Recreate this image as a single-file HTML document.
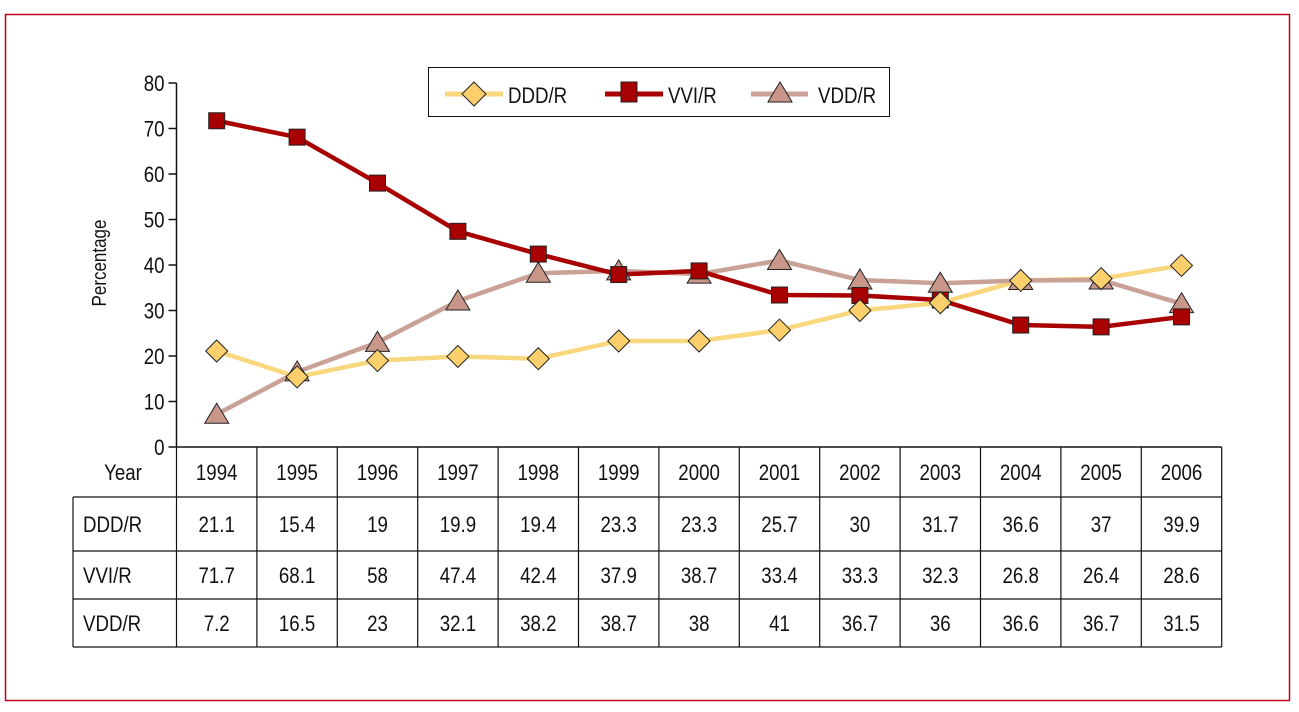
<!DOCTYPE html>
<html><head><meta charset="utf-8"><style>
body{margin:0;background:#fff;width:1299px;height:707px;overflow:hidden}
svg text{font-family:"Liberation Sans Narrow","Liberation Sans",sans-serif;fill:#111}
</style></head><body>
<svg id="chart" width="1299" height="707">
<rect x="5.5" y="14.5" width="1284" height="686" fill="none" stroke="#c0001a" stroke-width="1.5"/>
<g id="axis"></g>
<text x="106" y="263" font-size="20" text-anchor="middle" transform="rotate(-90 106 263) translate(106 0) scale(0.85 1) translate(-106 0)" class="nos">Percentage</text>
<g id="table"></g>
<g id="series"></g>
<g>
<rect x="428.5" y="67.5" width="461" height="49" fill="#fff" stroke="#111" stroke-width="1"/>
<g><line x1="445" y1="94" x2="503" y2="94" stroke="#f9d77c" stroke-width="5"/><polygon points="474,82 486,94 474,106 462,94" fill="#fbd06c" stroke="#222"/><text x="508" y="103" font-size="22">DDD/R</text></g>
<g><line x1="605" y1="94" x2="663" y2="94" stroke="#a80000" stroke-width="5"/><rect x="621" y="82" width="16" height="20" fill="#a80000" stroke="#222"/><text x="668" y="103" font-size="22">VVI/R</text></g>
<g><line x1="751" y1="94" x2="808" y2="94" stroke="#c9a196" stroke-width="5"/><polygon points="780,82 792,102 768,102" fill="#c9978a" stroke="#222"/><text x="818" y="103" font-size="22">VDD/R</text></g>
</g>
</svg>
<script>
const years=["1994","1995","1996","1997","1998","1999","2000","2001","2002","2003","2004","2005","2006"];
const ddd=[21.1,15.4,19,19.9,19.4,23.3,23.3,25.7,30,31.7,36.6,37,39.9];
const vvi=[71.7,68.1,58,47.4,42.4,37.9,38.7,33.4,33.3,32.3,26.8,26.4,28.6];
const vdd=[7.2,16.5,23,32.1,38.2,38.7,38,41,36.7,36,36.6,36.7,31.5];
const yTicks=[0,10,20,30,40,50,60,70,80];
const NS="http://www.w3.org/2000/svg";
const x0=176.5,colW=80.4,y0=447,yScale=4.55;
function xs(i){return x0+colW*(i+0.5);}
function ys(v){return y0-v*yScale;}
function mk(tag,attrs,parent){const e=document.createElementNS(NS,tag);for(const k in attrs)e.setAttribute(k,attrs[k]);parent.appendChild(e);return e;}
const axis=document.getElementById('axis');
mk('line',{x1:x0,y1:ys(80),x2:x0,y2:y0,stroke:'#111','stroke-width':1.5},axis);
yTicks.forEach(t=>{
 const l=mk('line',{x1:x0-8,y1:ys(t),x2:x0,y2:ys(t),stroke:'#111','stroke-width':1.5},axis);
 
 
 const tx=mk('text',{x:x0-12,y:ys(t)+8,'font-size':22,'text-anchor':'end'},axis);
 tx.textContent=t;
 
 
});
const tb=document.getElementById('table');
const xEnd=x0+colW*years.length;
const rowsY=[447,497,551,599,647];
mk('line',{x1:x0,y1:447,x2:xEnd,y2:447,stroke:'#111','stroke-width':1.5},tb);
for(let r=1;r<rowsY.length;r++)mk('line',{x1:73,y1:rowsY[r],x2:xEnd,y2:rowsY[r],stroke:'#111','stroke-width':1.2},tb);
mk('line',{x1:73,y1:497,x2:73,y2:647,stroke:'#111','stroke-width':1.2},tb);
for(let i=0;i<=years.length;i++)mk('line',{x1:x0+colW*i,y1:447,x2:x0+colW*i,y2:647,stroke:'#111','stroke-width':1.2},tb);
const labels=["Year","DDD/R","VVI/R","VDD/R"];
const rowData=[years,ddd,vvi,vdd];
labels.forEach((lb,r)=>{
 const cy=(rowsY[r]+rowsY[r+1])/2+8;
 const t=mk('text',{x:r==0?123:83,y:cy,'font-size':22,'text-anchor':r==0?'middle':'start'},tb);
 t.textContent=lb;
 
 
 rowData[r].forEach((v,i)=>{
  const c=mk('text',{x:xs(i),y:cy,'font-size':22,'text-anchor':'middle'},tb);
  c.textContent=v;
  
  
 });
});
const sg=document.getElementById('series');
function line(vals,color,name){
 const p=mk('polyline',{points:vals.map((v,i)=>xs(i)+','+ys(v)).join(' '),fill:'none',stroke:color,'stroke-width':4.5,'stroke-linejoin':'round'},sg);
 
 
}
line(ddd,'#f9d77c','ddd-line');
line(vdd,'#c9a196','vdd-line');
line(vvi,'#a80000','vvi-line');
vdd.forEach((v,i)=>{const x=xs(i),y=ys(v);
 const m=mk('polygon',{points:`${x},${y-11} ${x+12},${y+9} ${x-12},${y+9}`,fill:'#c9978a',stroke:'#222'},sg);
 
 });
vvi.forEach((v,i)=>{const x=xs(i),y=ys(v);
 const m=mk('rect',{x:x-8,y:y-8,width:16,height:16,fill:'#a80000',stroke:'#222'},sg);
 
 });
ddd.forEach((v,i)=>{const x=xs(i),y=ys(v);
 const m=mk('polygon',{points:`${x},${y-11} ${x+11},${y} ${x},${y+11} ${x-11},${y}`,fill:'#fbd06c',stroke:'#222'},sg);
 
 });
// condense text horizontally to mimic narrow font
document.querySelectorAll('svg text:not(.nos)').forEach(t=>{
 const x=parseFloat(t.getAttribute('x'));
 t.setAttribute('x',x/0.85);
 t.setAttribute('transform','scale(0.85 1)');
});
</script>
</body></html>
